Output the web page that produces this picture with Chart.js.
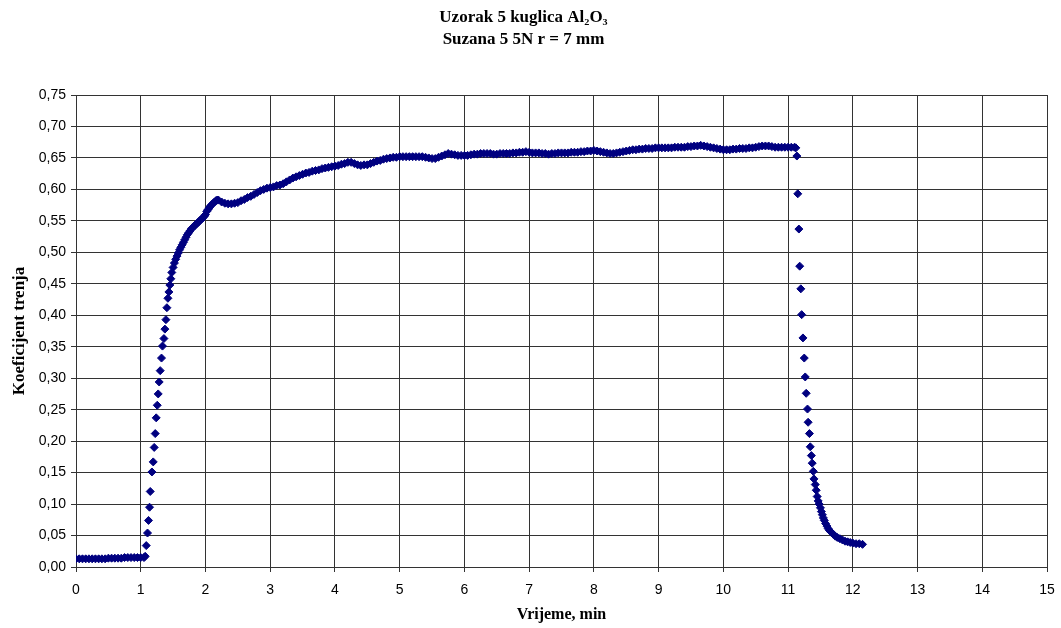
<!DOCTYPE html>
<html>
<head>
<meta charset="utf-8">
<script src="https://cdn.jsdelivr.net/npm/chart.js@4/dist/chart.umd.min.js"></script>
<style>
  body { margin: 0; background: #fff; }
  #wrap { width: 1061px; height: 628px; }
</style>
</head>
<body>
<div id="wrap"><canvas id="trenje"></canvas></div>
<script>
// vrijeme (min) i koeficijent trenja, ocitano sa grafa
const vrijeme = [
  // pocetak
  0.00, 0.05, 0.10, 0.15, 0.20, 0.25, 0.30, 0.35, 0.40, 0.45,
  0.50, 0.55, 0.60, 0.65, 0.70, 0.75, 0.80, 0.85, 0.90, 0.95,
  1.00, 1.05,
  // porast
  1.069, 1.085, 1.105, 1.12, 1.136, 1.147, 1.173, 1.193, 1.208, 1.224,
  1.239, 1.255, 1.270, 1.285, 1.301, 1.321, 1.336, 1.358, 1.373, 1.389,
  1.404, 1.420, 1.435,
  1.45, 1.465, 1.48, 1.50, 1.52, 1.54, 1.56, 1.58, 1.60, 1.62,
  1.64, 1.66, 1.68, 1.70, 1.72, 1.74, 1.76, 1.78, 1.80, 1.82,
  1.84, 1.86, 1.88, 1.90, 1.92, 1.94, 1.96, 1.98, 2.00, 2.02,
  2.04, 2.06, 2.08, 2.10, 2.12, 2.14, 2.16, 2.18,
  // plato
  2.20, 2.25, 2.30, 2.35, 2.40, 2.45, 2.50, 2.55, 2.60, 2.65,
  2.70, 2.75, 2.80, 2.85, 2.90, 2.95, 3.00, 3.05, 3.10, 3.15,
  3.20, 3.25, 3.30, 3.35, 3.40, 3.45, 3.50, 3.55, 3.60, 3.65,
  3.70, 3.75, 3.80, 3.85, 3.90, 3.95, 4.00, 4.05, 4.10, 4.15,
  4.20, 4.25, 4.30, 4.35, 4.40, 4.45, 4.50, 4.55, 4.60, 4.65,
  4.70, 4.75, 4.80, 4.85, 4.90, 4.95, 5.00, 5.05, 5.10, 5.15,
  5.20, 5.25, 5.30, 5.35, 5.40, 5.45, 5.50, 5.55, 5.60, 5.65,
  5.70, 5.75, 5.80, 5.85, 5.90, 5.95, 6.00, 6.05, 6.10, 6.15,
  6.20, 6.25, 6.30, 6.35, 6.40, 6.45, 6.50, 6.55, 6.60, 6.65,
  6.70, 6.75, 6.80, 6.85, 6.90, 6.95, 7.00, 7.05, 7.10, 7.15,
  7.20, 7.25, 7.30, 7.35, 7.40, 7.45, 7.50, 7.55, 7.60, 7.65,
  7.70, 7.75, 7.80, 7.85, 7.90, 7.95, 8.00, 8.05, 8.10, 8.15,
  8.20, 8.25, 8.30, 8.35, 8.40, 8.45, 8.50, 8.55, 8.60, 8.65,
  8.70, 8.75, 8.80, 8.85, 8.90, 8.95, 9.00, 9.05, 9.10, 9.15,
  9.20, 9.25, 9.30, 9.35, 9.40, 9.45, 9.50, 9.55, 9.60, 9.65,
  9.70, 9.75, 9.80, 9.85, 9.90, 9.95, 10.00, 10.05, 10.10, 10.15,
  10.20, 10.25, 10.30, 10.35, 10.40, 10.45, 10.50, 10.55, 10.60, 10.65,
  10.70, 10.75, 10.80, 10.85, 10.90, 10.95, 11.00, 11.05, 11.10, 11.12,
  // pad
  11.136, 11.15, 11.167, 11.18, 11.197, 11.21, 11.23, 11.25, 11.265, 11.28,
  11.30, 11.31, 11.33, 11.343, 11.36, 11.373, 11.39, 11.40, 11.42, 11.435,
  11.45, 11.465, 11.48, 11.50, 11.515, 11.53, 11.545, 11.56, 11.58, 11.60,
  11.62, 11.64, 11.67, 11.70, 11.73, 11.76, 11.80, 11.84, 11.88, 11.92,
  11.96, 12.00, 12.05, 12.10, 12.15
]

const koeficijent = [
  // pocetak
  0.013, 0.013, 0.013, 0.013, 0.013, 0.013, 0.013, 0.013, 0.013, 0.013,
  0.014, 0.014, 0.014, 0.014, 0.014, 0.015, 0.015, 0.015, 0.015, 0.015,
  0.015, 0.015,
  // porast
  0.017, 0.034, 0.054, 0.074, 0.095, 0.120, 0.151, 0.167, 0.190, 0.212,
  0.237, 0.257, 0.275, 0.294, 0.312, 0.332, 0.351, 0.363, 0.378, 0.393,
  0.412, 0.427, 0.437,
  0.448, 0.458, 0.468, 0.476, 0.483, 0.489, 0.494, 0.499, 0.504, 0.508,
  0.512, 0.516, 0.520, 0.524, 0.528, 0.531, 0.534, 0.537, 0.539, 0.541,
  0.543, 0.545, 0.547, 0.549, 0.551, 0.553, 0.555, 0.557, 0.560, 0.565,
  0.568, 0.571, 0.574, 0.576, 0.578, 0.580, 0.582, 0.583,
  // plato
  0.583, 0.580, 0.578, 0.577, 0.577, 0.578, 0.579, 0.582, 0.584, 0.587,
  0.589, 0.592, 0.595, 0.598, 0.600, 0.602, 0.603, 0.604, 0.606, 0.607,
  0.609, 0.612, 0.615, 0.618, 0.620, 0.622, 0.624, 0.626, 0.627, 0.629,
  0.630, 0.631, 0.633, 0.634, 0.635, 0.636, 0.637, 0.638, 0.640, 0.641,
  0.643, 0.643, 0.641, 0.639, 0.638, 0.639, 0.639, 0.641, 0.643, 0.645,
  0.646, 0.648, 0.649, 0.650, 0.651, 0.651, 0.652, 0.652, 0.652, 0.652,
  0.652, 0.652, 0.652, 0.652, 0.651, 0.650, 0.649, 0.649, 0.651, 0.653,
  0.655, 0.657, 0.656, 0.655, 0.654, 0.654, 0.654, 0.654, 0.655, 0.656,
  0.656, 0.657, 0.657, 0.657, 0.657, 0.656, 0.656, 0.657, 0.657, 0.657,
  0.657, 0.658, 0.658, 0.659, 0.659, 0.660, 0.659, 0.658, 0.658, 0.658,
  0.657, 0.657, 0.656, 0.657, 0.657, 0.658, 0.658, 0.658, 0.658, 0.659,
  0.659, 0.659, 0.660, 0.660, 0.661, 0.661, 0.662, 0.661, 0.660, 0.659,
  0.658, 0.657, 0.657, 0.658, 0.659, 0.660, 0.661, 0.662, 0.663, 0.663,
  0.664, 0.664, 0.665, 0.665, 0.665, 0.666, 0.666, 0.666, 0.666, 0.666,
  0.666, 0.667, 0.667, 0.667, 0.667, 0.668, 0.668, 0.669, 0.669, 0.670,
  0.669, 0.668, 0.667, 0.666, 0.665, 0.664, 0.663, 0.663, 0.663, 0.664,
  0.664, 0.665, 0.665, 0.665, 0.666, 0.666, 0.667, 0.668, 0.669, 0.669,
  0.669, 0.668, 0.667, 0.667, 0.667, 0.667, 0.667, 0.667, 0.667, 0.666,
  // pad
  0.653, 0.593, 0.537, 0.478, 0.442, 0.401, 0.364, 0.332, 0.302, 0.276,
  0.251, 0.230, 0.212, 0.191, 0.177, 0.165, 0.152, 0.140, 0.131, 0.122,
  0.112, 0.105, 0.100, 0.094, 0.088, 0.083, 0.078, 0.074, 0.069, 0.065,
  0.061, 0.058, 0.055, 0.052, 0.049, 0.047, 0.045, 0.043, 0.041, 0.040,
  0.039, 0.038, 0.037, 0.037, 0.036
]

const naslov = ["Uzorak 5 kuglica Al\u2082O\u2083", "Suzana 5 5N r = 7 mm"]
const nazivX = "Vrijeme, min"
const nazivY = "Koeficijent trenja"

const tacke = vrijeme.map((t, i) => ({ x: t, y: koeficijent[i] }))

const serif = "'Liberation Serif', 'Times New Roman', serif"
const sans = "'Liberation Sans', Arial, sans-serif"

new Chart(document.querySelector("#trenje"), {
  type: "scatter",
  data: {
    datasets: [
      {
        data: tacke,
        pointStyle: "rectRot",
        pointRadius: 4,
        borderWidth: 1,
        backgroundColor: "#000080",
        borderColor: "#000080",
      },
    ],
  },
  options: {
    responsive: true,
    maintainAspectRatio: false,
    animation: false,
    layout: { padding: { left: 0, right: 14, top: 0, bottom: 0 } },
    plugins: {
      legend: { display: false },
      tooltip: { enabled: false },
      title: {
        display: true,
        text: naslov,
        color: "#000",
        font: { family: serif, size: 17, weight: "bold", lineHeight: 1.25 },
        padding: { top: 7.4, bottom: 45.1 },
      },
    },
    scales: {
      x: {
        type: "linear",
        min: 0,
        max: 15,
        // fiksna visina ose, bez dodatnog razmaka desno
        afterFit: (scale) => {
          scale.height = 61
          scale.paddingRight = 0
        },
        ticks: { stepSize: 1, color: "#000", font: { family: sans, size: 14 }, padding: 10, maxRotation: 0 },
        grid: { color: "#333", lineWidth: 1, tickLength: 5, tickColor: "#333" },
        border: { color: "#333" },
        title: {
          display: true,
          text: nazivX,
          color: "#000",
          font: { family: serif, size: 16, weight: "bold" },
          padding: { top: 0, bottom: 4 },
        },
      },
      y: {
        min: 0,
        max: 0.75,
        afterFit: (scale) => { scale.width = 76 },
        ticks: {
          stepSize: 0.05,
          color: "#000",
          font: { family: sans, size: 14 },
          padding: 5,
          callback: (v) => v.toFixed(2).replace(".", ","),
        },
        grid: { color: "#333", lineWidth: 1, tickLength: 5, tickColor: "#333" },
        border: { color: "#333" },
        title: {
          display: true,
          text: nazivY,
          color: "#000",
          font: { family: serif, size: 17, weight: "bold" },
          padding: { top: 9, bottom: 0 },
        },
      },
    },
  },
})
</script>
</body>
</html>
